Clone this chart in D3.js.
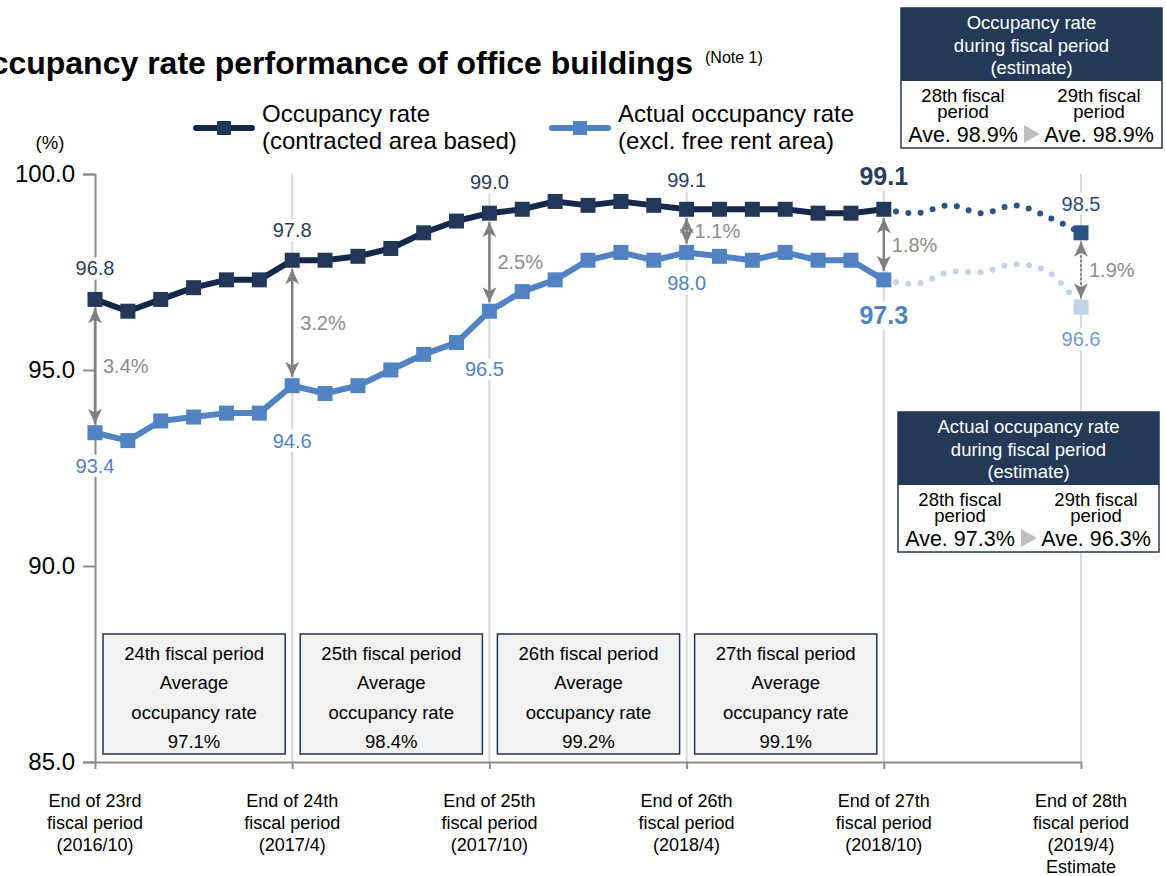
<!DOCTYPE html>
<html>
<head>
<meta charset="utf-8">
<script src="https://cdn.jsdelivr.net/npm/d3@7"></script>
<style>
  body { margin: 0; background: #fff; }
  svg { display: block; font-family: "Liberation Sans", Arial, sans-serif; }
</style>
</head>
<body>
<svg></svg>
<script>
let width = 1166, height = 876;

let svg = d3.select("svg")
    .attr("width", width)
    .attr("height", height);

// ---- data ----
const months = ["2016/10","2016/11","2016/12","2017/1","2017/2","2017/3","2017/4","2017/5","2017/6",
    "2017/7","2017/8","2017/9","2017/10","2017/11","2017/12","2018/1","2018/2","2018/3","2018/4",
    "2018/5","2018/6","2018/7","2018/8","2018/9","2018/10","2018/11","2018/12","2019/1","2019/2",
    "2019/3","2019/4"];
// occupancy rate (contracted area based), 2016/10 - 2018/10
const occupancy = [96.8, 96.5, 96.8, 97.1, 97.3, 97.3, 97.8, 97.8, 97.9, 98.1, 98.5, 98.8, 99.0,
    99.1, 99.3, 99.2, 99.3, 99.2, 99.1, 99.1, 99.1, 99.1, 99.0, 99.0, 99.1];
// actual occupancy rate (excl. free rent area)
const actual = [93.4, 93.2, 93.7, 93.8, 93.9, 93.9, 94.6, 94.4, 94.6, 95.0, 95.4, 95.7, 96.5,
    97.0, 97.3, 97.8, 98.0, 97.8, 98.0, 97.9, 97.8, 98.0, 97.8, 97.8, 97.3];
// estimates 2018/10 - 2019/4
const occupancyEst = [99.1, 99.0, 99.2, 99.0, 99.2, 98.9, 98.5];
const actualEst = [97.3, 97.2, 97.5, 97.5, 97.7, 97.5, 96.6];

const periodIdx = [0, 6, 12, 18, 24, 30];
const periodLabels = [
    ["End of 23rd", "fiscal period", "(2016/10)"],
    ["End of 24th", "fiscal period", "(2017/4)"],
    ["End of 25th", "fiscal period", "(2017/10)"],
    ["End of 26th", "fiscal period", "(2018/4)"],
    ["End of 27th", "fiscal period", "(2018/10)"],
    ["End of 28th", "fiscal period", "(2019/4)", "Estimate"]
];
const gapLabels = ["3.4%", "3.2%", "2.5%", "1.1%", "1.8%", "1.9%"];
const avgPeriods = ["24th fiscal period", "25th fiscal period", "26th fiscal period", "27th fiscal period"];
const avgRates = ["97.1%", "98.4%", "99.2%", "99.1%"];
const yTicks = [85, 90, 95, 100];

const dark = "#14284a", darkMark = "#233858", darkEst = "#2d5386";
const light = "#5182c2", lightEst = "#c3d4ea";
const gray = "#808080";

// ---- scales ----
const x = d3.scaleLinear().domain([0, months.length - 1]).range([95, 1081]);
const y = d3.scaleLinear().domain([85, 100]).range([762, 174]);

const occAll = occupancy.map((v, i) => ({i: i, v: v}));
const actAll = actual.map((v, i) => ({i: i, v: v}));
const occEst = occupancyEst.map((v, i) => ({i: i + occupancy.length - 1, v: v}));
const actEst = actualEst.map((v, i) => ({i: i + actual.length - 1, v: v}));
const valueAt = (arr, est, i) => i < arr.length ? arr[i] : est[i - arr.length + 1];

// Title (cut at left edge like the slide)
svg.append("text")
    .attr("x", 693)
    .attr("y", 74)
    .attr("text-anchor", "end")
    .attr("font-size", "32px")
    .attr("font-weight", "bold")
    .attr("fill", "#000")
    .text("Occupancy rate performance of office buildings");
svg.append("text")
    .attr("x", 705)
    .attr("y", 63)
    .attr("font-size", "16px")
    .text("(Note 1)");

// Legend
const legendItems = [
    {x: 196, color: dark, mark: darkMark, lines: ["Occupancy rate", "(contracted area based)"]},
    {x: 552, color: light, mark: light, lines: ["Actual occupancy rate", "(excl. free rent area)"]}
];
legendItems.forEach(d => {
    const g = svg.append("g").attr("transform", `translate(${d.x},128)`);
    g.append("line").attr("x1", 0).attr("x2", 56)
        .attr("stroke", d.color).attr("stroke-width", 6).attr("stroke-linecap", "round");
    g.append("rect").attr("x", 21).attr("y", -7).attr("width", 14).attr("height", 14).attr("fill", d.mark);
    g.append("text").attr("x", 66).attr("y", -6).attr("font-size", "24px")
        .text(d.lines[0]);
    g.append("text").attr("x", 66).attr("y", 21).attr("font-size", "24px")
        .text(d.lines[1]);
});

svg.append("text")
    .attr("x", 50).attr("y", 149)
    .attr("text-anchor", "middle")
    .attr("font-size", "18.5px")
    .text("(%)");

// gridlines at each fiscal period end
svg.append("g")
    .selectAll("line")
    .data(periodIdx.slice(1))
    .enter()
    .append("line")
    .attr("x1", d => x(d)).attr("x2", d => x(d))
    .attr("y1", y(100)).attr("y2", y(85))
    .attr("stroke", "#d9d9d9")
    .attr("stroke-width", 2);

// y axis
const yAxis = svg.append("g")
    .attr("transform", `translate(${x(0)},0)`)
    .call(d3.axisLeft(y).tickValues(yTicks).tickFormat(d3.format(".1f")).tickSize(12).tickPadding(8));
yAxis.select(".domain").attr("stroke", "#8c8c8c").attr("stroke-width", 2);
yAxis.selectAll(".tick line").attr("stroke", "#8c8c8c").attr("stroke-width", 2);
yAxis.selectAll(".tick text")
    .attr("font-size", "24px")
    .attr("font-family", "Liberation Sans, Arial, sans-serif")
    .attr("fill", "#000");

// x axis
const xAxis = svg.append("g")
    .attr("transform", `translate(0,${y(85)})`)
    .call(d3.axisBottom(x).tickValues(periodIdx).tickFormat("").tickSize(7).tickSizeOuter(0));
xAxis.select(".domain").attr("stroke", "#8c8c8c").attr("stroke-width", 2);
xAxis.selectAll(".tick line").attr("stroke", "#8c8c8c").attr("stroke-width", 2);

periodIdx.forEach((p, k) => {
    const t = svg.append("text")
        .attr("x", x(p))
        .attr("y", 807)
        .attr("text-anchor", "middle")
        .attr("font-size", "18px")
        .attr("fill", "#000");
    periodLabels[k].forEach((line, j) => {
        t.append("tspan").attr("x", x(p)).attr("dy", j === 0 ? 0 : 22).text(line);
    });
});

// average occupancy boxes
avgPeriods.forEach((name, k) => {
    const x0 = x(periodIdx[k]) + 8, x1 = x(periodIdx[k + 1]) - 7;
    const g = svg.append("g");
    g.append("rect")
        .attr("x", x0).attr("y", 634)
        .attr("width", x1 - x0).attr("height", 120)
        .attr("fill", "#f2f2f2")
        .attr("stroke", "#1f3557")
        .attr("stroke-width", 1.5);
    [name, "Average", "occupancy rate", avgRates[k]].forEach((line, j) => {
        g.append("text")
            .attr("x", (x0 + x1) / 2)
            .attr("y", 659.5 + j * 29.5)
            .attr("text-anchor", "middle")
            .attr("font-size", "18.5px")
            .attr("fill", "#000")
            .text(line);
    });
});

// value labels with white backing (they break the grid lines)
function valueLabel(px, py, txt, color, bold) {
    const g = svg.append("g");
    const t = g.append("text")
        .attr("x", px).attr("y", py)
        .attr("text-anchor", "middle")
        .attr("dominant-baseline", "central")
        .attr("font-size", bold ? "25px" : "20px")
        .attr("font-weight", bold ? "bold" : "normal")
        .attr("fill", color)
        .text(txt);
    const b = t.node().getBBox();
    g.insert("rect", "text")
        .attr("x", b.x - 2).attr("y", b.y)
        .attr("width", b.width + 4).attr("height", b.height)
        .attr("fill", "#fff");
}
const darkOff = [-31, -30, -31, -29, -33, -29];
const lightOff = [33, 55, 58, 31, 35, 32];
const lightDx = [0, 0, -5, 0, 0, 0];
periodIdx.forEach((p, k) => {
    const dv = valueAt(occupancy, occupancyEst, p);
    const lv = valueAt(actual, actualEst, p);
    valueLabel(x(p), y(dv) + darkOff[k], d3.format(".1f")(dv), k === 5 ? "#2b4a78" : "#2a3d5c", k === 4);
    valueLabel(x(p) + lightDx[k], y(lv) + lightOff[k], d3.format(".1f")(lv), k === 5 ? "#6f9ad0" : light, k === 4);
});

// gap arrows
const defs = svg.append("defs");
defs.append("marker")
    .attr("id", "arrow")
    .attr("viewBox", "0 -8 16 16")
    .attr("refX", 15).attr("refY", 0)
    .attr("markerUnits", "userSpaceOnUse")
    .attr("markerWidth", 16).attr("markerHeight", 16)
    .attr("orient", "auto-start-reverse")
    .append("path")
    .attr("d", "M0,-7 L15,0 L0,7 L4,0 Z")
    .attr("fill", gray);

periodIdx.forEach((p, k) => {
    const dv = valueAt(occupancy, occupancyEst, p);
    const lv = valueAt(actual, actualEst, p);
    svg.append("line")
        .attr("x1", x(p)).attr("x2", x(p))
        .attr("y1", y(dv) + 9).attr("y2", y(lv) - 9)
        .attr("stroke", gray)
        .attr("stroke-width", k === 5 ? 2 : 2.5)
        .attr("stroke-dasharray", k === 5 ? "2.5 2" : null)
        .attr("marker-start", "url(#arrow)")
        .attr("marker-end", "url(#arrow)");
    svg.append("text")
        .attr("x", x(p) + 8)
        .attr("y", (y(dv) + y(lv)) / 2)
        .attr("dominant-baseline", "central")
        .attr("font-size", "20px")
        .attr("fill", "#8c8c8c")
        .text(gapLabels[k]);
});

// lines
const line = d3.line().x(d => x(d.i)).y(d => y(d.v));
const smooth = d3.line().x(d => x(d.i)).y(d => y(d.v)).curve(d3.curveCatmullRom.alpha(0.5));

svg.append("path").datum(occEst).attr("d", smooth)
    .attr("fill", "none").attr("stroke", darkEst).attr("stroke-width", 6)
    .attr("stroke-linecap", "round").attr("stroke-dasharray", "0 12.4");
svg.append("path").datum(actEst).attr("d", smooth)
    .attr("fill", "none").attr("stroke", lightEst).attr("stroke-width", 6)
    .attr("stroke-linecap", "round").attr("stroke-dasharray", "0 12.4");

svg.append("path").datum(occAll).attr("d", line)
    .attr("fill", "none").attr("stroke", dark).attr("stroke-width", 6).attr("stroke-linejoin", "round");
svg.append("path").datum(actAll).attr("d", line)
    .attr("fill", "none").attr("stroke", light).attr("stroke-width", 6).attr("stroke-linejoin", "round");

const ms = 15;
function markers(data, color) {
    svg.append("g").selectAll("rect")
        .data(data)
        .enter()
        .append("rect")
        .attr("x", d => x(d.i) - ms / 2)
        .attr("y", d => y(d.v) - ms / 2)
        .attr("width", ms).attr("height", ms)
        .attr("fill", color);
}
markers(occAll, darkMark);
markers(actAll, light);
markers(occEst.slice(-1), darkEst);
markers(actEst.slice(-1), lightEst);

// estimate info boxes
function infoBox(bx, by, head, left, right) {
    const w = 261, hh = 73, h = 140;
    const g = svg.append("g").attr("transform", `translate(${bx},${by})`);
    g.append("rect").attr("width", w).attr("height", h)
        .attr("fill", "#fff").attr("stroke", "#243858").attr("stroke-width", 1.5);
    g.append("rect").attr("width", w).attr("height", hh).attr("fill", "#243858");
    head.forEach((s, j) => {
        g.append("text").attr("x", w / 2).attr("y", 21 + j * 22.5)
            .attr("text-anchor", "middle").attr("font-size", "18.5px").attr("fill", "#fff").text(s);
    });
    [[62, left], [198, right]].forEach(([cx, val]) => {
        g.append("text").attr("x", cx).attr("y", 94).attr("text-anchor", "middle")
            .attr("font-size", "18.5px").text(val[0]);
        g.append("text").attr("x", cx).attr("y", 110).attr("text-anchor", "middle")
            .attr("font-size", "18.5px").text(val[1]);
        g.append("text").attr("x", cx).attr("y", 134).attr("text-anchor", "middle")
            .attr("font-size", "21.5px").text(val[2]);
    });
    g.append("path").attr("d", "M123,117 L139,126 L123,135 Z").attr("fill", "#bfbfbf");
}
infoBox(901, 8, ["Occupancy rate", "during fiscal period", "(estimate)"],
    ["28th fiscal", "period", "Ave. 98.9%"], ["29th fiscal", "period", "Ave. 98.9%"]);
infoBox(898, 412, ["Actual occupancy rate", "during fiscal period", "(estimate)"],
    ["28th fiscal", "period", "Ave. 97.3%"], ["29th fiscal", "period", "Ave. 96.3%"]);
</script>
</body>
</html>
